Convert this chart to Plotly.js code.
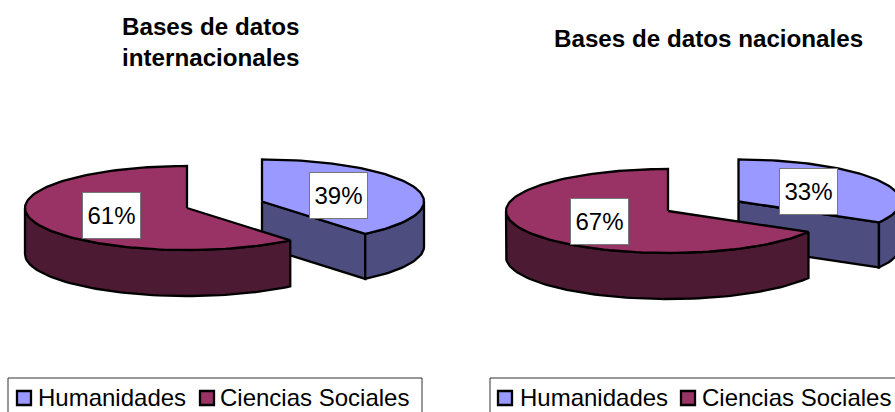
<!DOCTYPE html>
<html>
<head>
<meta charset="utf-8">
<script src="https://cdn.plot.ly/plotly-3.0.1.min.js"></script>
<style>html,body{margin:0;padding:0;background:#fff;overflow:hidden}</style>
</head>
<body>
<div id="chart" style="width:895px;height:412px"></div>
<script>
const categories = ['Humanidades', 'Ciencias Sociales'];
const internacionales = [39, 61];
const nacionales = [33.3, 66.7];
const titles = ['Bases de datos<br>internacionales', 'Bases de datos nacionales'];
const topColors = ['#9999FF', '#993366'];
const sideColors = ['#4D4D80', '#4D1A33'];

const FONT = '"Liberation Sans", Arial, sans-serif';
const rx = 162, ry = 42, depths = [45, 46], edge = 2.3;

function pt(c, t, dz) {
  const a = t * Math.PI / 180;
  return [c[0] + rx * Math.sin(a), c[1] - ry * Math.cos(a) + dz];
}
function arc(c, t0, t1, dz) {
  const out = [], n = Math.max(2, Math.ceil(Math.abs(t1 - t0) / 2));
  for (let i = 0; i <= n; i++) out.push(pt(c, t0 + (t1 - t0) * i / n, dz));
  return out;
}
function poly(points, color, name) {
  const closed = points.concat([points[0]]);
  return {
    type: 'scatter', mode: 'lines', fill: 'toself', fillcolor: color, name: name,
    x: closed.map(p => p[0]), y: closed.map(p => p[1]),
    line: {color: '#000', width: edge}, hoverinfo: 'skip', showlegend: false
  };
}
function slice(c, t0, t1, idx) {
  const traces = [], name = categories[idx], depth = depths[idx];
  if (idx === 0) {
    const b = pt(c, t1, 0);
    traces.push(poly([c, b, [b[0], b[1] + depth], [c[0], c[1] + depth]], sideColors[idx], name));
  }
  const s0 = Math.max(t0, 90), s1 = Math.min(t1, 270);
  if (s1 > s0) {
    traces.push(poly(arc(c, s0, s1, 0).concat(arc(c, s1, s0, depth)), sideColors[idx], name));
  }
  traces.push(poly([c].concat(arc(c, t0, t1, 0)), topColors[idx], name));
  return traces;
}
function pie(values, centers) {
  const total = values.reduce((a, b) => a + b, 0);
  let start = 0, traces = [];
  values.forEach((v, i) => {
    const end = start + v / total * 360;
    traces = traces.concat(slice(centers[i], start, end, i));
    start = end;
  });
  return traces;
}

const charts = [
  {values: internacionales, title: titles[0], centers: [[262, 201.5], [187, 208]],
   labelPos: [[338.5, 195], [111.5, 215.5]], titlePos: [210, 42], box: [8, 422],
   keySymbols: [24, 207], keyTexts: [37, 219]},
  {values: nacionales, title: titles[1], centers: [[738.5, 201.5], [668, 211]],
   labelPos: [[808, 191], [599.5, 221]], titlePos: [708, 38.5], box: [490, 905],
   keySymbols: [505, 688], keyTexts: [519, 701]}
];

let data = [], annotations = [], shapes = [];
charts.forEach(ch => {
  data = data.concat(pie(ch.values, ch.centers));
  ch.values.forEach((v, i) => {
    annotations.push({
      x: ch.labelPos[i][0], y: ch.labelPos[i][1], xref: 'x', yref: 'y', showarrow: false,
      text: Math.round(v) + '%', width: 57, height: 45, align: 'center', valign: 'middle',
      bgcolor: '#fff', bordercolor: '#777', borderwidth: 1, borderpad: 0,
      font: {family: FONT, size: 24, color: '#000'}
    });
  });
  annotations.push({
    x: ch.titlePos[0], y: ch.titlePos[1], xref: 'x', yref: 'y', showarrow: false,
    text: '<b>' + ch.title + '</b>', font: {family: FONT, size: 24.2, color: '#000'}
  });
  shapes.push({type: 'rect', xref: 'x', yref: 'y', x0: ch.box[0], x1: ch.box[1], y0: 378, y1: 425,
    line: {color: '#333', width: 1}, fillcolor: 'rgba(0,0,0,0)', layer: 'below'});
  categories.forEach((name, i) => {
    data.push({
      type: 'scatter', mode: 'markers', x: [ch.keySymbols[i]], y: [398], name: name,
      marker: {symbol: 'square', size: 14, color: topColors[i], line: {color: '#000', width: 2.3}},
      hoverinfo: 'skip', showlegend: false
    });
    annotations.push({
      x: ch.keyTexts[i], y: 397, xref: 'x', yref: 'y', xanchor: 'left', showarrow: false,
      text: name, borderpad: 0, font: {family: FONT, size: 24, color: '#000'}
    });
  });
});
const layout = {
  width: 895, height: 412, margin: {l: 0, r: 0, t: 0, b: 0, autoexpand: false},
  paper_bgcolor: '#fff', plot_bgcolor: '#fff', showlegend: false,
  xaxis: {visible: false, range: [0, 895], fixedrange: true},
  yaxis: {visible: false, range: [412, 0], fixedrange: true},
  font: {family: FONT, size: 24, color: '#000'},
  annotations: annotations, shapes: shapes
};
Plotly.newPlot('chart', data, layout, {staticPlot: true, displayModeBar: false});
</script>
</body>
</html>
